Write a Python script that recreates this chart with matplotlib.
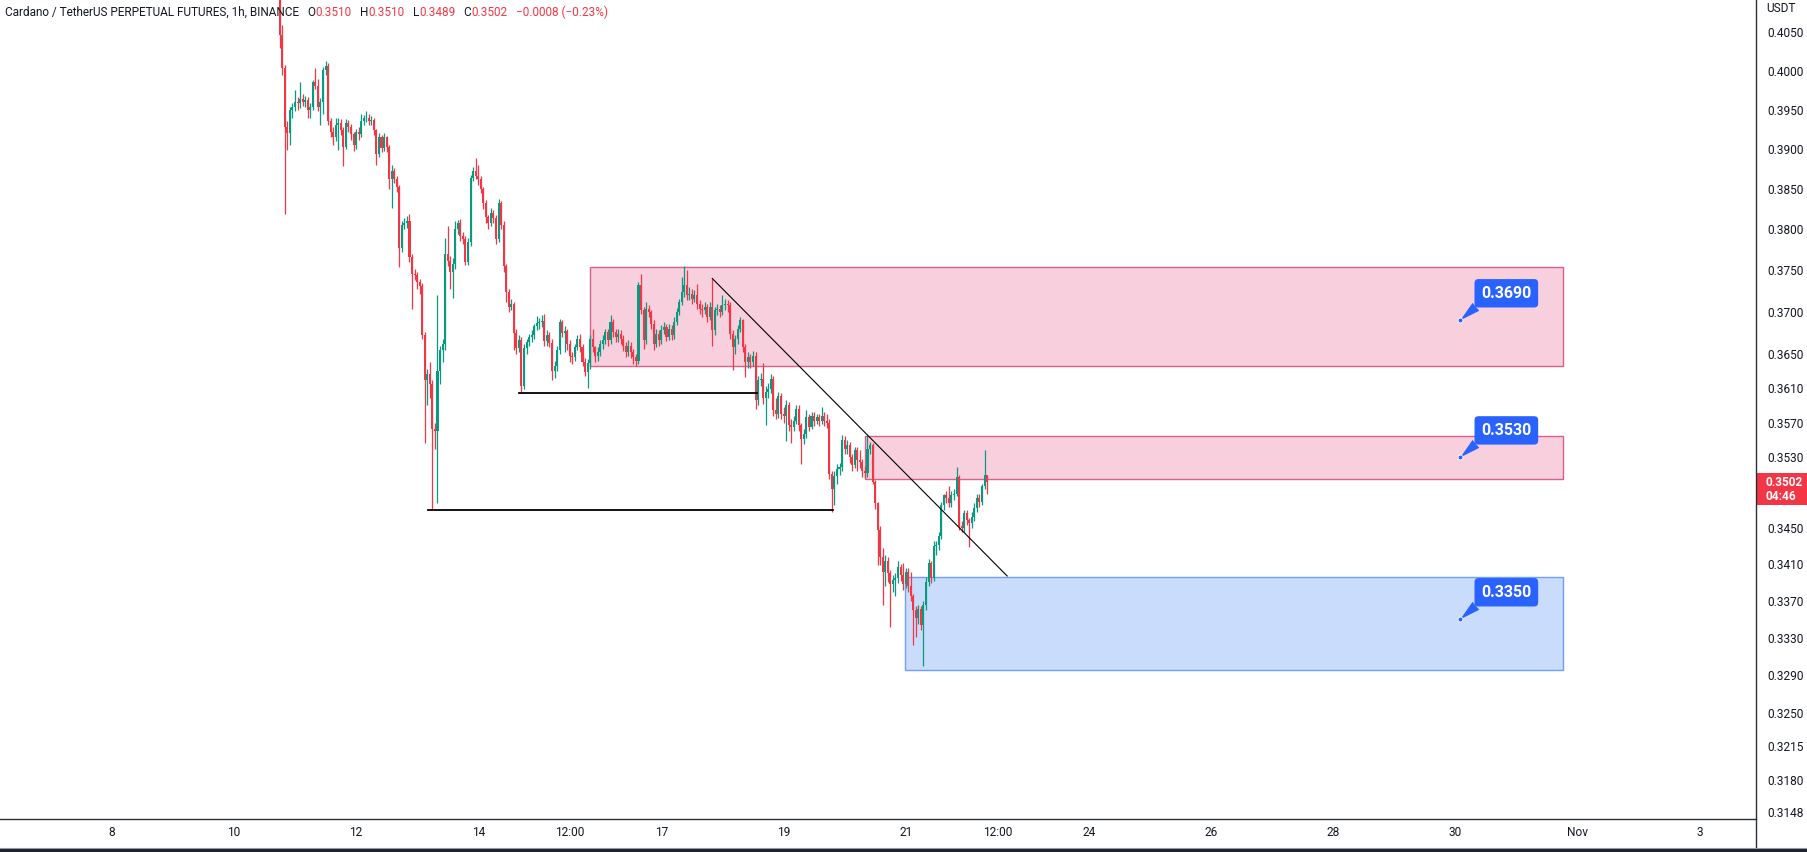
import numpy as np
import matplotlib
matplotlib.use("Agg")
import matplotlib.pyplot as plt
from matplotlib.patches import Rectangle
from matplotlib.ticker import FixedLocator, FixedFormatter, NullLocator
from matplotlib.lines import Line2D

plt.rcParams['font.family'] = ['Roboto', 'DejaVu Sans']

# ADA/USDT perp, 1h candles. x = hours counted from Oct 8 00:00
start_hour = 66          # first candle: Oct 10 18:00
first_open = 0.4110

close = [
    0.4046, 0.4004, 0.3928, 0.3920, 0.3949, 0.3953, 0.3960, 0.3958, 0.3964, 0.3960,
    0.3962, 0.3949, 0.3953, 0.3985, 0.3981, 0.3953, 0.3960, 0.4001, 0.4006, 0.3935,
    0.3921, 0.3915, 0.3930, 0.3933, 0.3924, 0.3903, 0.3933, 0.3928, 0.3919, 0.3905,
    0.3921, 0.3919, 0.3935, 0.3939, 0.3940, 0.3935, 0.3937, 0.3924, 0.3894, 0.3915,
    0.3901, 0.3915, 0.3903, 0.3863, 0.3872, 0.3863, 0.3852, 0.3777, 0.3806, 0.3808,
    0.3810, 0.3766, 0.3746, 0.3744, 0.3736, 0.3731, 0.3673, 0.3619, 0.3627, 0.3615,
    0.3562, 0.3560, 0.3630, 0.3655, 0.3662, 0.3770, 0.3762, 0.3748, 0.3758, 0.3800,
    0.3808, 0.3792, 0.3788, 0.3760, 0.3785, 0.3864, 0.3872, 0.3866, 0.3862, 0.3850,
    0.3832, 0.3815, 0.3808, 0.3820, 0.3814, 0.3788, 0.3833, 0.3806, 0.3755, 0.3724,
    0.3706, 0.3709, 0.3675, 0.3657, 0.3666, 0.3613, 0.3657, 0.3664, 0.3670, 0.3672,
    0.3683, 0.3687, 0.3688, 0.3689, 0.3665, 0.3672, 0.3663, 0.3630, 0.3636, 0.3655,
    0.3688, 0.3675, 0.3677, 0.3662, 0.3648, 0.3646, 0.3658, 0.3668, 0.3658, 0.3640,
    0.3629, 0.3639, 0.3668, 0.3658, 0.3648, 0.3652, 0.3662, 0.3666, 0.3676, 0.3666,
    0.3688, 0.3676, 0.3670, 0.3674, 0.3668, 0.3660, 0.3652, 0.3660, 0.3652, 0.3646,
    0.3642, 0.3732, 0.3702, 0.3666, 0.3704, 0.3700, 0.3686, 0.3662, 0.3674, 0.3666,
    0.3678, 0.3682, 0.3670, 0.3680, 0.3672, 0.3688, 0.3700, 0.3712, 0.3724, 0.3732,
    0.3720, 0.3722, 0.3716, 0.3720, 0.3710, 0.3704, 0.3702, 0.3706, 0.3694, 0.3706,
    0.3678, 0.3702, 0.3704, 0.3700, 0.3708, 0.3710, 0.3708, 0.3674, 0.3658, 0.3668,
    0.3680, 0.3690, 0.3658, 0.3640, 0.3646, 0.3640, 0.3648, 0.3596, 0.3619, 0.3621,
    0.3598, 0.3605, 0.3609, 0.3621, 0.3584, 0.3580, 0.3601, 0.3580, 0.3578, 0.3590,
    0.3567, 0.3565, 0.3572, 0.3586, 0.3567, 0.3551, 0.3557, 0.3576, 0.3565, 0.3578,
    0.3572, 0.3576, 0.3572, 0.3578, 0.3572, 0.3570, 0.3511, 0.3494, 0.3509, 0.3517,
    0.3519, 0.3550, 0.3540, 0.3544, 0.3530, 0.3521, 0.3538, 0.3527, 0.3525, 0.3514,
    0.3512, 0.3540, 0.3544, 0.3502, 0.3478, 0.3448, 0.3418, 0.3402, 0.3414, 0.3400,
    0.3388, 0.3393, 0.3395, 0.3407, 0.3398, 0.3388, 0.3402, 0.3386, 0.3375, 0.3360,
    0.3351, 0.3361, 0.3344, 0.3366, 0.3391, 0.3411, 0.3395, 0.3430, 0.3431, 0.3441,
    0.3476, 0.3487, 0.3484, 0.3478, 0.3487, 0.3489, 0.3508, 0.3452, 0.3450, 0.3467,
    0.3459, 0.3456, 0.3463, 0.3473, 0.3484, 0.3480, 0.3497, 0.3510, 0.3502,
]
high = [
    0.4125, 0.4060, 0.4008, 0.3935, 0.3953, 0.3958, 0.3975, 0.3966, 0.3985, 0.3970,
    0.3968, 0.3966, 0.3958, 0.3988, 0.4004, 0.3990, 0.3965, 0.4005, 0.4013, 0.4010,
    0.3940, 0.3928, 0.3939, 0.3940, 0.3938, 0.3928, 0.3938, 0.3937, 0.3932, 0.3922,
    0.3926, 0.3928, 0.3944, 0.3943, 0.3948, 0.3944, 0.3942, 0.3940, 0.3926, 0.3920,
    0.3918, 0.3920, 0.3917, 0.3905, 0.3880, 0.3876, 0.3866, 0.3855, 0.3810, 0.3814,
    0.3816, 0.3819, 0.3770, 0.3752, 0.3748, 0.3740, 0.3735, 0.3676, 0.3632, 0.3640,
    0.3620, 0.3570, 0.3720, 0.3660, 0.3668, 0.3790, 0.3804, 0.3768, 0.3765, 0.3810,
    0.3812, 0.3813, 0.3797, 0.3792, 0.3790, 0.3868, 0.3878, 0.3889, 0.3880, 0.3866,
    0.3852, 0.3836, 0.3818, 0.3826, 0.3824, 0.3818, 0.3837, 0.3835, 0.3810, 0.3758,
    0.3728, 0.3715, 0.3712, 0.3680, 0.3672, 0.3670, 0.3662, 0.3668, 0.3674, 0.3678,
    0.3686, 0.3695, 0.3693, 0.3696, 0.3697, 0.3678, 0.3676, 0.3668, 0.3642, 0.3660,
    0.3692, 0.3690, 0.3683, 0.3680, 0.3666, 0.3652, 0.3662, 0.3672, 0.3674, 0.3662,
    0.3645, 0.3644, 0.3672, 0.3680, 0.3660, 0.3658, 0.3666, 0.3672, 0.3680, 0.3680,
    0.3696, 0.3692, 0.3680, 0.3680, 0.3678, 0.3672, 0.3664, 0.3666, 0.3664, 0.3656,
    0.3650, 0.3736, 0.3746, 0.3706, 0.3712, 0.3708, 0.3702, 0.3690, 0.3680, 0.3678,
    0.3684, 0.3688, 0.3686, 0.3685, 0.3684, 0.3694, 0.3705, 0.3716, 0.3742, 0.3755,
    0.3750, 0.3730, 0.3728, 0.3726, 0.3733, 0.3714, 0.3710, 0.3712, 0.3710, 0.3712,
    0.3740, 0.3706, 0.3710, 0.3708, 0.3720, 0.3716, 0.3714, 0.3712, 0.3678, 0.3672,
    0.3684, 0.3694, 0.3692, 0.3662, 0.3652, 0.3650, 0.3654, 0.3652, 0.3624, 0.3628,
    0.3639, 0.3612, 0.3616, 0.3626, 0.3624, 0.3598, 0.3606, 0.3604, 0.3588, 0.3596,
    0.3594, 0.3574, 0.3578, 0.3590, 0.3590, 0.3570, 0.3562, 0.3584, 0.3580, 0.3582,
    0.3582, 0.3580, 0.3580, 0.3588, 0.3582, 0.3580, 0.3574, 0.3515, 0.3514, 0.3522,
    0.3524, 0.3556, 0.3554, 0.3550, 0.3548, 0.3534, 0.3542, 0.3542, 0.3538, 0.3528,
    0.3520, 0.3556, 0.3548, 0.3546, 0.3504, 0.3480, 0.3452, 0.3428, 0.3420, 0.3418,
    0.3404, 0.3398, 0.3400, 0.3414, 0.3410, 0.3411, 0.3406, 0.3406, 0.3402, 0.3378,
    0.3364, 0.3366, 0.3364, 0.3370, 0.3396, 0.3416, 0.3414, 0.3436, 0.3436, 0.3446,
    0.3480, 0.3489, 0.3492, 0.3497, 0.3492, 0.3494, 0.3519, 0.3510, 0.3458, 0.3470,
    0.3470, 0.3462, 0.3468, 0.3478, 0.3488, 0.3488, 0.3500, 0.3538, 0.3510,
]
low = [
    0.4030, 0.3995, 0.3819, 0.3899, 0.3905, 0.3940, 0.3948, 0.3950, 0.3952, 0.3955,
    0.3954, 0.3939, 0.3940, 0.3950, 0.3976, 0.3948, 0.3930, 0.3945, 0.3995, 0.3930,
    0.3915, 0.3905, 0.3910, 0.3899, 0.3918, 0.3879, 0.3900, 0.3922, 0.3912, 0.3898,
    0.3900, 0.3912, 0.3915, 0.3930, 0.3934, 0.3930, 0.3931, 0.3918, 0.3880, 0.3890,
    0.3896, 0.3898, 0.3896, 0.3850, 0.3827, 0.3858, 0.3846, 0.3754, 0.3772, 0.3800,
    0.3802, 0.3760, 0.3704, 0.3738, 0.3728, 0.3722, 0.3668, 0.3546, 0.3590, 0.3599,
    0.3472, 0.3540, 0.3478, 0.3615, 0.3640, 0.3655, 0.3755, 0.3728, 0.3717, 0.3752,
    0.3795, 0.3786, 0.3782, 0.3757, 0.3756, 0.3780, 0.3860, 0.3862, 0.3855, 0.3845,
    0.3825, 0.3808, 0.3800, 0.3804, 0.3808, 0.3782, 0.3785, 0.3800, 0.3748, 0.3712,
    0.3700, 0.3702, 0.3655, 0.3650, 0.3652, 0.3605, 0.3609, 0.3650, 0.3660, 0.3664,
    0.3668, 0.3678, 0.3680, 0.3682, 0.3660, 0.3660, 0.3658, 0.3620, 0.3622, 0.3630,
    0.3650, 0.3670, 0.3652, 0.3655, 0.3640, 0.3638, 0.3642, 0.3655, 0.3652, 0.3636,
    0.3624, 0.3610, 0.3632, 0.3652, 0.3640, 0.3642, 0.3648, 0.3656, 0.3662, 0.3660,
    0.3662, 0.3670, 0.3664, 0.3664, 0.3662, 0.3654, 0.3646, 0.3648, 0.3645, 0.3638,
    0.3636, 0.3638, 0.3698, 0.3656, 0.3662, 0.3694, 0.3680, 0.3655, 0.3658, 0.3660,
    0.3662, 0.3674, 0.3665, 0.3666, 0.3666, 0.3668, 0.3684, 0.3696, 0.3708, 0.3718,
    0.3714, 0.3714, 0.3710, 0.3712, 0.3704, 0.3698, 0.3694, 0.3698, 0.3688, 0.3690,
    0.3660, 0.3672, 0.3696, 0.3694, 0.3696, 0.3702, 0.3700, 0.3668, 0.3631, 0.3650,
    0.3662, 0.3676, 0.3652, 0.3623, 0.3634, 0.3634, 0.3636, 0.3586, 0.3590, 0.3612,
    0.3592, 0.3567, 0.3598, 0.3604, 0.3578, 0.3574, 0.3575, 0.3574, 0.3570, 0.3549,
    0.3560, 0.3547, 0.3560, 0.3568, 0.3560, 0.3523, 0.3545, 0.3552, 0.3560, 0.3562,
    0.3566, 0.3568, 0.3566, 0.3568, 0.3566, 0.3564, 0.3505, 0.3468, 0.3476, 0.3500,
    0.3510, 0.3515, 0.3534, 0.3534, 0.3524, 0.3515, 0.3518, 0.3514, 0.3518, 0.3508,
    0.3506, 0.3508, 0.3534, 0.3500, 0.3472, 0.3409, 0.3409, 0.3365, 0.3386, 0.3391,
    0.3342, 0.3380, 0.3375, 0.3390, 0.3392, 0.3382, 0.3384, 0.3380, 0.3370, 0.3322,
    0.3331, 0.3345, 0.3338, 0.3300, 0.3360, 0.3386, 0.3390, 0.3392, 0.3420, 0.3426,
    0.3438, 0.3470, 0.3478, 0.3474, 0.3474, 0.3482, 0.3486, 0.3448, 0.3446, 0.3446,
    0.3454, 0.3429, 0.3450, 0.3458, 0.3468, 0.3474, 0.3476, 0.3494, 0.3489,
]

# axis ticks
price_ticks = [0.4050, 0.4000, 0.3950, 0.3900, 0.3850, 0.3800, 0.3750, 0.3700, 0.3650,
               0.3610, 0.3570, 0.3530, 0.3450, 0.3410, 0.3370, 0.3330, 0.3290, 0.3250,
               0.3215, 0.3180, 0.3148]
time_ticks = [0, 48, 96, 144, 180, 216, 264, 312, 348, 384, 432, 480, 528, 576, 624]
time_labels = ['8', '10', '12', '14', '12:00', '17', '19', '21', '12:00', '24', '26',
               '28', '30', 'Nov', '3']

# drawings on the chart
zone_start = [188.0, 296.1, 311.8]
zone_end = [570.3, 570.3, 570.3]
zone_low = [0.3636, 0.3505, 0.3295]
zone_high = [0.37545, 0.35547, 0.3396]
zone_fill = ['#F8D0DD', '#F8D0DD', '#CADCFB']
zone_edge = ['#DB5F8A', '#DB5F8A', '#6FA0F7']

level_start = [160.0, 124.2]
level_end = [253.7, 283.5]
level_price = [0.36045, 0.3471]

trend_hours = [236.0, 351.9]
trend_prices = [0.37402, 0.33972]

target_values = [0.3690, 0.3530, 0.3350]
target_hour = 530.0

# legend line values
symbol_name = 'Cardano / TetherUS PERPETUAL FUTURES, 1h, BINANCE'
ohlc_letters = ['O', 'H', 'L', 'C']
ohlc_values = [0.3510, 0.3510, 0.3489, 0.3502]
change_text = '\u22120.0008 (\u22120.23%)'
countdown = '04:46'

up_col = '#089981'
down_col = '#F23645'
txt_col = '#131722'

W, H = 1808, 852
fig = plt.figure(figsize=(W / 100, H / 100), dpi=100)
fig.patch.set_facecolor('white')
ax = fig.add_axes([0, 1 - 819 / H, 1756 / W, 819 / H])

c = np.array(close)
o = np.concatenate([[first_open], c[:-1]])
hi = np.maximum(np.array(high), np.maximum(o, c))
lo = np.minimum(np.array(low), np.minimum(o, c))
t = start_hour + np.arange(len(c))
cols = np.where(c >= o, up_col, down_col)

ax.vlines(t, lo, hi, colors=cols, linewidth=0.9, zorder=3)
body_h = np.maximum(np.abs(c - o), 0.00006)
ax.bar(t, body_h, bottom=np.minimum(o, c), width=0.8, color=cols, linewidth=0, zorder=4)

for xs, xe, yl, yh, fc, ec in zip(zone_start, zone_end, zone_low, zone_high, zone_fill, zone_edge):
    ax.add_patch(Rectangle((xs, yl), xe - xs, yh - yl, facecolor=fc, edgecolor=ec,
                           linewidth=1.0, zorder=1))

for xs, xe, p in zip(level_start, level_end, level_price):
    ax.plot([xs, xe], [p, p], color='black', linewidth=1.3, zorder=5)
ax.plot(trend_hours, trend_prices, color='black', linewidth=0.8, zorder=5)

blue = '#2962FF'
for v in target_values:
    ax.annotate(f'{v:.4f}', xy=(target_hour, v), xytext=(46, 27), textcoords='offset pixels',
                ha='center', va='center', color='white', fontsize=11.5, fontweight='bold',
                bbox=dict(boxstyle='round,pad=0.42,rounding_size=0.25', fc=blue, ec='none'),
                arrowprops=dict(arrowstyle='wedge,tail_width=0.65,shrink_factor=0.5',
                                fc=blue, ec='none', relpos=(0.12, 0.25),
                                shrinkA=0, shrinkB=0),
                zorder=7)
    ax.plot(target_hour, v, 'o', ms=3.5, mfc=blue, mec='white', mew=0.6, zorder=8)

ax.set_yscale('log')
ax.set_xlim(-43.94, 646.2)
ax.set_ylim(0.31405, 0.40926)
ax.yaxis.set_major_locator(FixedLocator(price_ticks))
ax.yaxis.set_major_formatter(FixedFormatter([f'{p:.4f}' for p in price_ticks]))
ax.yaxis.set_minor_locator(NullLocator())
ax.yaxis.tick_right()
ax.set_xticks(time_ticks)
ax.set_xticklabels(time_labels)
ax.tick_params(axis='y', length=0, pad=8, labelsize=8.6, labelcolor=txt_col)
ax.tick_params(axis='x', length=0, pad=5, labelsize=8.6, labelcolor=txt_col)
for s in ['top', 'left', 'right']:
    ax.spines[s].set_visible(False)
ax.spines['bottom'].set_color('#2A2E39')
ax.spines['bottom'].set_linewidth(1.0)

# price scale separator and bottom bar
fig.add_artist(Line2D([1756.5 / W, 1756.5 / W], [1 - 848 / H, 1], transform=fig.transFigure,
                      color='#2A2E39', linewidth=1.0))
fig.add_artist(Rectangle((0, 0), 1, 4 / H, transform=fig.transFigure, facecolor='#1E222D',
                         edgecolor='none'))
fig.add_artist(Line2D([0, 1], [4.5 / H, 4.5 / H], transform=fig.transFigure,
                      color='#9598A1', linewidth=0.8))

fig.text(1766 / W, 1 - 9 / H, 'USDT', fontsize=8.6, color=txt_col, va='center', ha='left')

# last price tag
fig.canvas.draw()
renderer = fig.canvas.get_renderer()
py = ax.transData.transform((0, close[-1]))[1]
fig.add_artist(Rectangle((1757 / W, (py - 23) / H), 51 / W, 32 / H, transform=fig.transFigure,
                         facecolor=down_col, edgecolor='none'))
fig.text(1766 / W, py / H, f'{close[-1]:.4f}', fontsize=8.6, color='white',
         fontweight='bold', va='center', ha='left')
fig.text(1766 / W, (py - 14) / H, countdown, fontsize=8.6, color='white',
         fontweight='bold', va='center', ha='left')

# legend line at the top, laid out piece by piece
pieces = [(symbol_name, txt_col, 8)]
for lt, lv in zip(ohlc_letters, ohlc_values):
    pieces.append((lt, txt_col, 0.5))
    pieces.append((f'{lv:.4f}', down_col, 8))
pieces.append((change_text, down_col, 0))

hy = 1 - 12 / H
cursor = 5.0
for s, col, gap in pieces:
    tx = fig.text(cursor / W, hy, s, fontsize=8.5, color=col, va='center', ha='left')
    cursor += tx.get_window_extent(renderer).width + gap

fig.savefig('out.png', dpi=100)
